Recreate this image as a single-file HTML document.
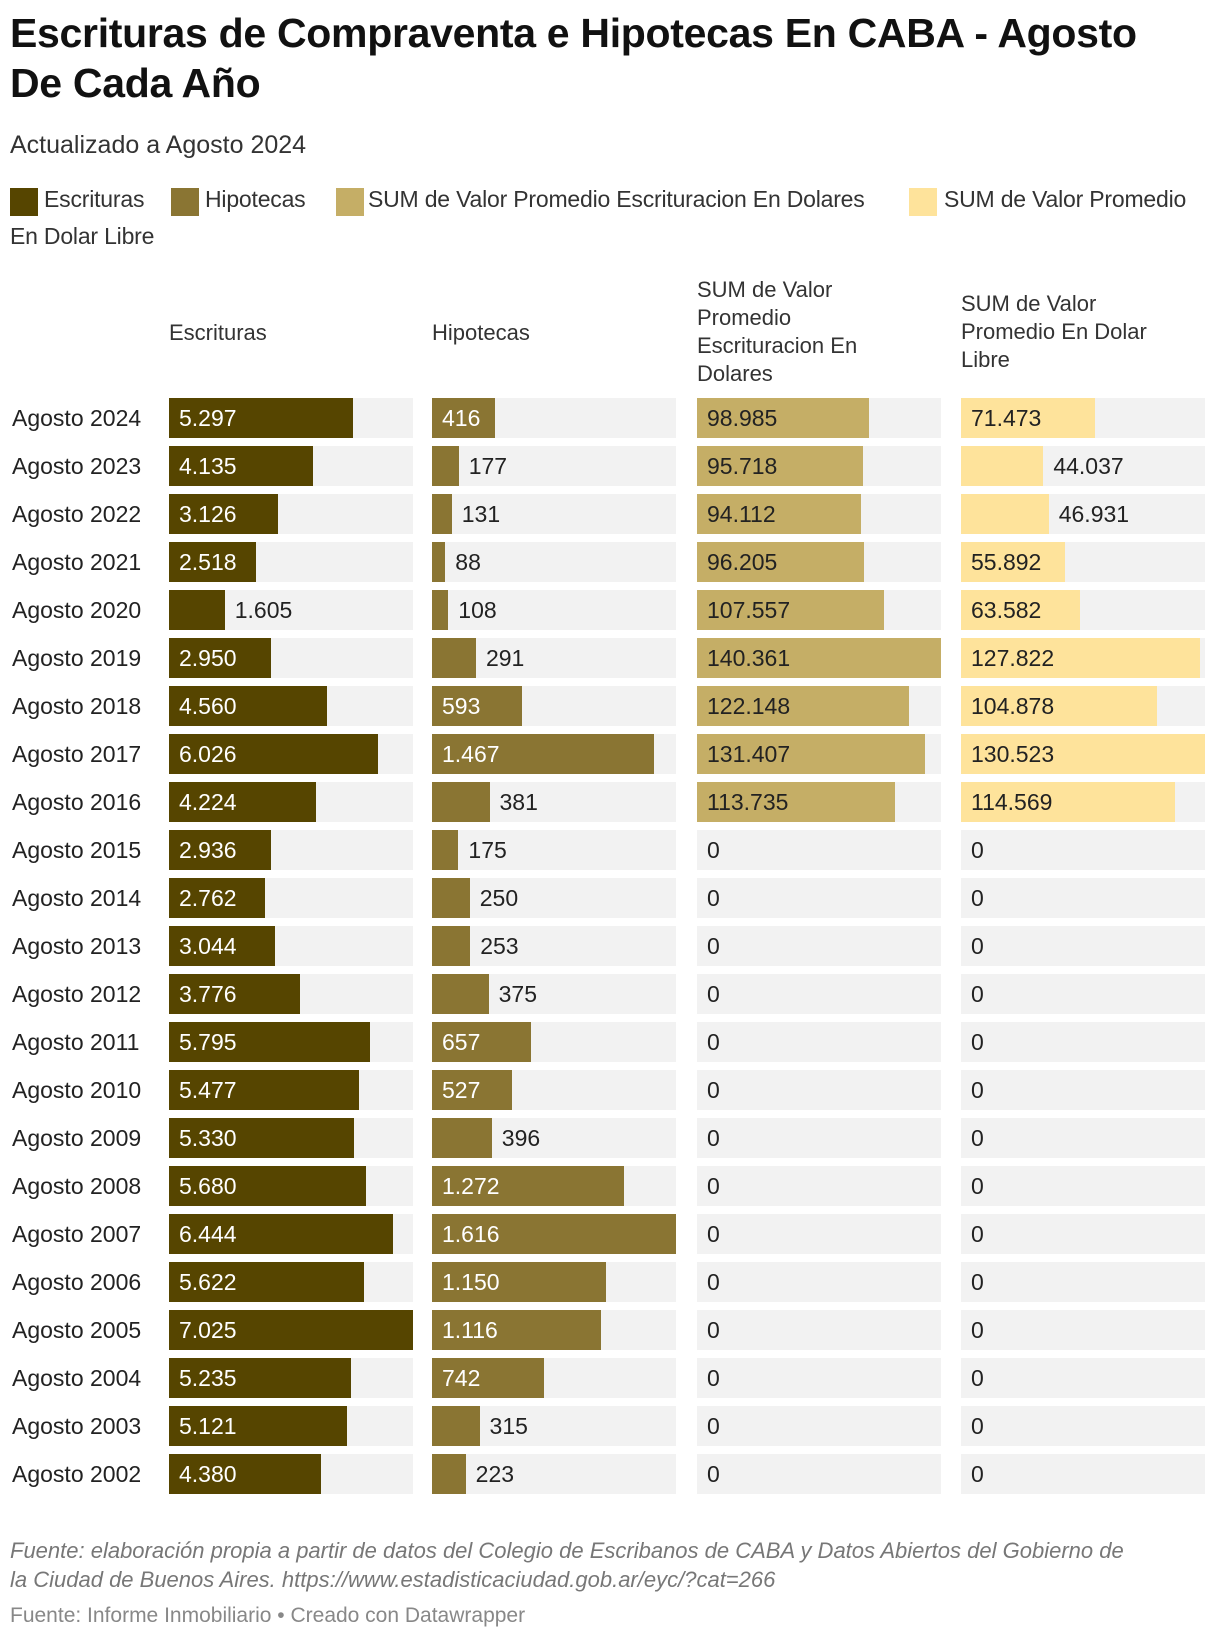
<!DOCTYPE html>
<html><head><meta charset="utf-8">
<style>
body{margin:0;background:#fff;font-family:"Liberation Sans",Arial,sans-serif;color:#1d1d1d;}
#wrap{position:relative;width:1220px;height:1638px;overflow:hidden;}
.t{position:absolute;white-space:nowrap;}
h1{position:absolute;left:10px;top:8px;margin:0;font-size:41px;line-height:50px;font-weight:bold;color:#111;letter-spacing:-0.3px;}
.sw{position:absolute;width:28px;height:28px;top:188px;}
.leg{font-size:23px;top:186px;color:#333;letter-spacing:-0.2px;}
.hdr{font-size:22px;line-height:28px;color:#333;position:absolute;}
.row{font-size:23px;}
</style></head><body>
<div id="wrap">
<h1>Escrituras de Compraventa e Hipotecas En CABA - Agosto<br>De Cada Año</h1>
<div class="t" style="left:10px;top:131px;font-size:25px;color:#333">Actualizado a Agosto 2024</div>
<div>
<div class="sw" style="left:10px;background:#564500"></div>
<div class="t leg" style="left:44px">Escrituras</div>
<div class="sw" style="left:171px;background:#8a7533"></div>
<div class="t leg" style="left:205px">Hipotecas</div>
<div class="sw" style="left:336px;background:#c5ae66"></div>
<div class="t leg" style="left:368px">SUM de Valor Promedio Escrituracion En Dolares</div>
<div class="sw" style="left:909px;background:#fee39b"></div>
<div class="t leg" style="left:944px">SUM de Valor Promedio</div>
<div class="t leg" style="left:10px;top:223px">En Dolar Libre</div>
</div>
<div class="hdr" style="left:169px;top:319px">Escrituras</div>
<div class="hdr" style="left:432px;top:319px">Hipotecas</div>
<div class="hdr" style="left:697px;top:276px">SUM de Valor<br>Promedio<br>Escrituracion En<br>Dolares</div>
<div class="hdr" style="left:961px;top:290px">SUM de Valor<br>Promedio En Dolar<br>Libre</div>
<div id="rows"></div>
<div class="t" style="left:10px;top:1536px;font-size:22px;line-height:29px;font-style:italic;color:#777;white-space:normal;width:1180px">Fuente: elaboración propia a partir de datos del Colegio de Escribanos de CABA y Datos Abiertos del Gobierno de<br>la Ciudad de Buenos Aires. https://www.estadisticaciudad.gob.ar/eyc/?cat=266</div>
<div class="t" style="left:10px;top:1604px;font-size:21px;color:#888">Fuente: Informe Inmobiliario • Creado con Datawrapper</div>
</div>
<script>
const years=["Agosto 2024","Agosto 2023","Agosto 2022","Agosto 2021","Agosto 2020","Agosto 2019","Agosto 2018","Agosto 2017","Agosto 2016","Agosto 2015","Agosto 2014","Agosto 2013","Agosto 2012","Agosto 2011","Agosto 2010","Agosto 2009","Agosto 2008","Agosto 2007","Agosto 2006","Agosto 2005","Agosto 2004","Agosto 2003","Agosto 2002"];
const escrituras=[5297,4135,3126,2518,1605,2950,4560,6026,4224,2936,2762,3044,3776,5795,5477,5330,5680,6444,5622,7025,5235,5121,4380];
const hipotecas=[416,177,131,88,108,291,593,1467,381,175,250,253,375,657,527,396,1272,1616,1150,1116,742,315,223];
const sumUsd=[98985,95718,94112,96205,107557,140361,122148,131407,113735,0,0,0,0,0,0,0,0,0,0,0,0,0,0];
const sumLibre=[71473,44037,46931,55892,63582,127822,104878,130523,114569,0,0,0,0,0,0,0,0,0,0,0,0,0,0];
const cols=[
 {name:"escrituras",vals:escrituras,x:169,color:"#564500",txt:"#fff"},
 {name:"hipotecas",vals:hipotecas,x:432,color:"#8a7533",txt:"#fff"},
 {name:"sum-usd",vals:sumUsd,x:697,color:"#c5ae66",txt:"#222"},
 {name:"sum-libre",vals:sumLibre,x:961,color:"#fee39b",txt:"#222"}];
const colW=244,rowTop=398,rowStep=48,rowH=40;
function fmt(v){return v.toString().replace(/\B(?=(\d{3})+(?!\d))/g,".");}
function tw(s){let w=0;for(const c of s)w+=(c==".")?5:12;return w;}
const root=document.getElementById('rows');
function mk(cls,style,txt){const d=document.createElement('div');d.className=cls;d.style.cssText=style;if(txt!==undefined)d.textContent=txt;root.appendChild(d);return d;}
years.forEach((y,i)=>{
  const top=rowTop+i*rowStep;
  const lab=mk('t row',`left:12px;top:${top+7}px;color:#222`,y);
  
  
  cols.forEach(c=>{
    const max=Math.max(...c.vals);
    const v=c.vals[i];
    const w=colW*v/max;
    const bg=mk('',`position:absolute;left:${c.x}px;top:${top}px;width:${colW}px;height:${rowH}px;background:#f2f2f2`);
    
    
    const b=mk('',`position:absolute;left:${c.x}px;top:${top}px;width:${w}px;height:${rowH}px;background:${c.color}`);
    
    
    const s=fmt(v);
    const inside=v>0&&w>=tw(s)+25;
    const lx=inside?c.x+10:(v>0?c.x+w+10:c.x+10);
    const l=mk('t row',`left:${lx}px;top:${top+7}px;color:${inside?c.txt:'#222'}`,s);
    
    
  });
});
</script>
</body></html>
